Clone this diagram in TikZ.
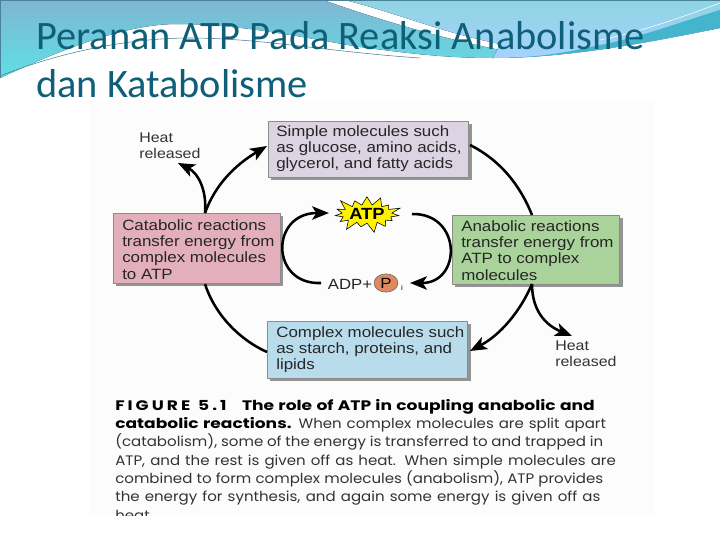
\documentclass[tikz,border=0pt]{standalone}
\usepackage{xcolor}
\usepackage{fontspec}
\setmainfont[FakeStretch=1.135]{Liberation Sans}
\newfontfamily\titlefont{Carlito}
\newfontfamily\capfont[FakeStretch=1.09]{Poppins}
\newfontfamily\capbold[FakeStretch=1.24]{Poppins Bold}
\usepackage{tikz}
\usetikzlibrary{positioning}
\usetikzlibrary{arrows.meta}
\usetikzlibrary{shapes.symbols,shapes.geometric}
\definecolor{titleblue}{HTML}{0F5F78}
\definecolor{simplebox}{HTML}{DCD3E3}
\definecolor{catabox}{HTML}{E3AFBC}
\definecolor{anabox}{HTML}{A9D39A}
\definecolor{complexbox}{HTML}{B9DCEC}
\definecolor{headblue}{HTML}{7FB6D2}
\definecolor{headcyan}{HTML}{5FE0E6}
\definecolor{headtop}{HTML}{8FD4E2}
\definecolor{headband}{HTML}{45B5CE}
\definecolor{headline}{HTML}{4A8298}
\definecolor{pcolor}{HTML}{DE8A5E}
\newcommand{\capline}[2]{\makebox[#1][s]{#2}}
\tikzset{
    reaction/.style={draw=black!45, line width=0.3pt, inner sep=0pt, anchor=north west},
    shade/.style={fill=black!42},
    boxtext/.style={anchor=north west, align=left, inner sep=0pt, font=\fontsize{10.6}{11.6}\selectfont, text=black!85},
    heat/.style={align=left, anchor=north west, inner sep=0pt, font=\fontsize{10}{11.4}\selectfont, text=black!80},
    flow/.style={line width=1.8pt, black},
    flowtip/.style={flow, -{Stealth[length=12pt,width=9.5pt,inset=3pt]}},
}
\begin{document}
\begin{tikzpicture}[x=0.025cm, y=-0.025cm]
    \useasboundingbox (0,0) rectangle (720,540);
    % header
    \fill[top color=headblue, bottom color=headcyan] (0,0) -- (323,0)
        .. controls (380,20) and (440,38) .. (500,50)
        -- (493,58) .. controls (440,58) and (400,52) .. (360,47)
        .. controls (300,37) and (240,24) .. (177,24)
        .. controls (120,24) and (50,55) .. (0,78) -- cycle;
    \fill[top color=headtop, bottom color=cyan!50!blue!35] (345,0) -- (720,0) -- (720,28)
        .. controls (650,42) and (570,58) .. (493,58)
        -- (500,44) .. controls (440,32) and (400,14) .. (345,0) -- cycle;
    \fill[headband] (720,10) .. controls (680,22) and (640,38) .. (590,47)
        .. controls (560,54) and (530,58) .. (493,58)
        .. controls (570,58) and (650,42) .. (720,28) -- cycle;
    \draw[headline, line width=0.4pt] (0,76) .. controls (50,56) and (120,38) .. (190,38)
        .. controls (260,38) and (330,52) .. (420,58);
    \draw[white, line width=0.4pt] (720,3) .. controls (680,18) and (640,32) .. (600,40);
    \draw[headline, line width=0.8pt] (0,78) -- (0,0) -- (720,0);
    % panel
    \fill[black!1] (90,100) rectangle (655,516);
    % boxes
    \fill[shade] (271,124) rectangle (472,180);
    \node[reaction, fill=simplebox, minimum width=142.4pt, minimum height=39.7pt] at (268,121) (simple) {};
    \fill[shade] (116,216) rectangle (283,286);
    \node[reaction, fill=catabox, minimum width=118.4pt, minimum height=49.6pt] at (113,213) (cata) {};
    \fill[shade] (455,218) rectangle (623,287);
    \node[reaction, fill=anabox, minimum width=119pt, minimum height=48.9pt] at (452,215) (ana) {};
    \fill[shade] (270,324) rectangle (471,381);
    \node[reaction, fill=complexbox, minimum width=142.4pt, minimum height=40.4pt] at (267,321) (complex) {};
    \node[boxtext] at (276,125) (simpletext) {Simple molecules such\\as glucose, amino acids,\\glycerol, and fatty acids};
    \node[boxtext] at (122,219) (catatext) {Catabolic reactions\\transfer energy from\\complex molecules\\to ATP};
    \node[boxtext] at (461,220) (anatext) {Anabolic reactions\\transfer energy from\\ATP to complex\\molecules};
    \node[boxtext] at (276,326) (complextext) {Complex molecules such\\as starch, proteins, and\\lipids};
    \node[heat] at (139,133) (heata) {Heat\\released};
    \node[heat] at (555,341) (heatb) {Heat\\released};
    \node[starburst, fill=yellow, draw=black, line width=0.4pt, starburst points=15, starburst point height=8pt,
        inner sep=0pt, minimum width=41pt, minimum height=29pt, font=\bfseries\fontsize{11.5}{11.5}\selectfont] at (367,214) (atp) {ATP};
    \node[font=\fontsize{10.5}{10.5}\selectfont, text=black!85] at (350,284) (adp) {ADP+};
    \node[ellipse, draw=black!60, fill=pcolor, inner sep=0pt, minimum width=17pt, minimum height=13pt,
        font=\fontsize{10.5}{10.5}\selectfont] at (386,283) (pi) {P};
    \node[font=\fontsize{5}{5}\selectfont] at (402,288) (isub) {i};
    \coordinate (catatop) at (205,213);
    \coordinate (anabot) at (532,284);
    \coordinate (catabot) at (205,284);
    \coordinate (anatop) at (532,215);
    \coordinate (simplein) at (267,146);
    \coordinate (simpleout) at (470,145);
    \coordinate (complexin) at (470,351);
    \coordinate (complexout) at (267,352);
    \coordinate (heatatip) at (178,163);
    \coordinate (heatbtip) at (572,336);
    \coordinate (atpin) at (329,213);
    \coordinate (atpout) at (412,214);
    \coordinate (adpout) at (321,283);
    \coordinate (adpin) at (410,283);
    % connectors
    \draw[flowtip] (catatop) .. controls (215,185) and (235,165) .. (simplein);
    \draw[flowtip] (catatop) .. controls (207,190) and (198,173) .. (heatatip);
    \draw[flow] (simpleout) .. controls (500,160) and (520,185) .. (anatop);
    \draw[flowtip] (anabot) .. controls (520,312) and (500,335) .. (complexin);
    \draw[flowtip] (anabot) .. controls (532,310) and (545,325) .. (heatbtip);
    \draw[flow] (catabot) .. controls (215,315) and (240,340) .. (complexout);
    \draw[flowtip] (adpout) .. controls (270,285) and (270,213) .. (atpin);
    \draw[flowtip] (atpout) .. controls (462,213) and (462,283) .. (adpin);
    % caption
    \begin{scope}
        \clip (90,390) rectangle (655,515);
        \node[anchor=north west, align=left, inner sep=0pt, font=\capfont\fontsize{9.8}{13}\selectfont, text=black!80]
            at (115,399) (caption) {\capline{341pt}{\capbold\color{black}{\addfontfeature{LetterSpace=22}FIGURE 5.1}\hspace{11pt}The role of ATP in coupling anabolic and}\\
            \capline{349pt}{{\capbold\color{black}catabolic reactions.}\hspace{5pt}When complex molecules are split apart}\\
            \capline{347pt}{(catabolism), some of the energy is transferred to and trapped in}\\
            \capline{356pt}{ATP, and the rest is given off as heat. When simple molecules are}\\
            \capline{347pt}{combined to form complex molecules (anabolism), ATP provides}\\
            \capline{345pt}{the energy for synthesis, and again some energy is given off as}\\
            heat.};
    \end{scope}
    % title
    \node[anchor=north west, align=left, inner sep=0pt, font=\titlefont\fontsize{28.7}{34}\selectfont, text=titleblue]
        at (36,21) (title) {Peranan ATP Pada Reaksi Anabolisme\\dan Katabolisme};
\end{tikzpicture}
\end{document}
